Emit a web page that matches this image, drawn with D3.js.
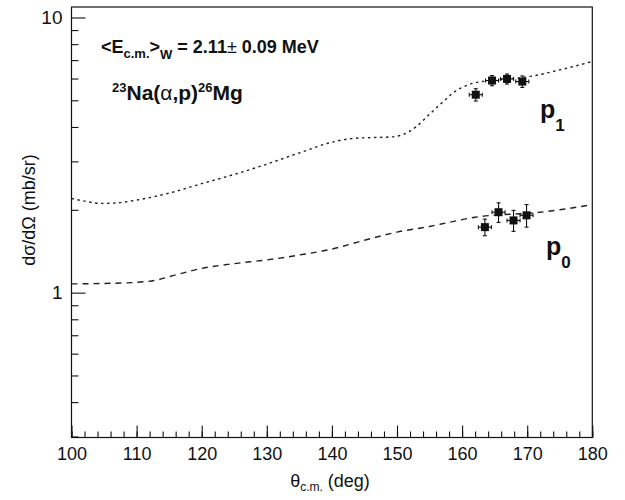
<!DOCTYPE html>
<html><head><meta charset="utf-8">
<script src="https://cdn.jsdelivr.net/npm/d3@7"></script>
<style>body{margin:0;background:#fff;} text{font-family:"Liberation Sans",Arial,Helvetica,sans-serif;fill:#111;}</style>
</head><body><svg id="chart" width="625" height="500"></svg>
<script>
// ---- data ----
const p1CurveAngles = [100,102,104.6,107,110,115,120,125,130,135,140,143,146,149,151,153,155,157,159,161,163,166,170,175,180];
const p1CurveValues = [2.20,2.15,2.11,2.12,2.17,2.30,2.49,2.69,2.93,3.22,3.52,3.63,3.66,3.68,3.76,4.02,4.45,4.92,5.40,5.70,5.85,5.95,6.08,6.45,6.92];
const p0CurveAngles = [100,105,110,113,116,120,125,130,135,140,145,150,155,158,162,166,170,175,180];
const p0CurveValues = [1.076,1.08,1.09,1.11,1.16,1.225,1.275,1.315,1.37,1.44,1.55,1.66,1.74,1.80,1.88,1.92,1.94,2.00,2.09];
const p1Angles = [162.1,164.6,166.9,169.25];
const p1Values = [5.24,5.90,5.98,5.85];
const p1Errors = [0.27,0.25,0.25,0.28];
const p1AngleErrors = [1.0,1.0,1.0,1.0];
const p0Angles = [163.5,165.6,167.9,169.9];
const p0Values = [1.73,1.96,1.83,1.91];
const p0Errors = [0.12,0.16,0.16,0.18];
const p0AngleErrors = [1.0,1.0,1.0,1.0];
const xMajorTicks = [100,110,120,130,140,150,160,170,180];
const xMinorTicks = d3.range(100,181,2);
const yMajorTicks = [1,10];
const yTickLabels = ["1","10"];
const yMinorTicks = [0.3,0.4,0.5,0.6,0.7,0.8,0.9,2,3,4,5,6,7,8,9];

// ---- layout ----
const svg = d3.select("#chart");
const L = 71.5, R = 592.3, T = 6.1, B = 436.5;
const x = d3.scaleLinear().domain([100,180]).range([L,R]);
const y = d3.scaleLog().domain([0.3,11]).range([B,T]);

// frame
svg.append("rect").attr("x",L).attr("y",7).attr("width",R-L).attr("height",B-7+1)
  .attr("fill","none").attr("stroke","#111").attr("stroke-width",1.2);

// x axis
const gx = svg.append("g").attr("transform",`translate(0,${B+1})`);
gx.call(d3.axisBottom(x).tickValues(xMinorTicks).tickSizeInner(-6).tickSizeOuter(0).tickFormat(""));
const gx2 = svg.append("g").attr("transform",`translate(0,${B+1})`);
gx2.call(d3.axisBottom(x).tickValues(xMajorTicks).tickSizeInner(-12).tickSizeOuter(0).tickPadding(10).tickFormat(d3.format("d")));
[gx,gx2].forEach(g=>{g.select(".domain").remove(); g.selectAll("line").attr("stroke","#111").attr("stroke-width",1.1);});
gx2.selectAll("text").attr("font-size",18).attr("font-family","Liberation Sans, Arial, sans-serif").attr("fill","#111");

// y axis
const gy = svg.append("g").attr("transform",`translate(${L},0)`);
gy.call(d3.axisLeft(y).tickValues(yMinorTicks).tickSizeInner(-7).tickSizeOuter(0).tickFormat(""));
const gy2 = svg.append("g").attr("transform",`translate(${L},0)`);
gy2.call(d3.axisLeft(y).tickValues(yMajorTicks).tickSizeInner(-14).tickSizeOuter(0).tickPadding(9).tickFormat((d,i)=>yTickLabels[i]));
[gy,gy2].forEach(g=>{g.select(".domain").remove(); g.selectAll("line").attr("stroke","#111").attr("stroke-width",1.1);});
gy2.selectAll("text").attr("font-size",19).attr("font-family","Liberation Sans, Arial, sans-serif").attr("fill","#111");

// curves
const line = d3.line().x(d=>x(d[0])).y(d=>y(d[1])).curve(d3.curveMonotoneX);
svg.append("path").datum(p1CurveAngles.map((a,i)=>[a,p1CurveValues[i]]))
  .attr("d",line).attr("fill","none").attr("stroke","#222").attr("stroke-width",1.4).attr("stroke-dasharray","2.5,3.5");
svg.append("path").datum(p0CurveAngles.map((a,i)=>[a,p0CurveValues[i]]))
  .attr("d",line).attr("fill","none").attr("stroke","#222").attr("stroke-width",1.4).attr("stroke-dasharray","6,5");

// data points
function drawPoints(ang, val, err, aerr){
  const g = svg.append("g");
  ang.forEach((a,i)=>{
    const cx = x(a), cy = y(val[i]);
    const y1 = y(val[i]-err[i]), y2 = y(val[i]+err[i]);
    const x1 = x(a-aerr[i]), x2 = x(a+aerr[i]);
    const s = "#111";
    g.append("line").attr("x1",cx).attr("x2",cx).attr("y1",y1).attr("y2",y2).attr("stroke",s).attr("stroke-width",1.1);
    g.append("line").attr("x1",cx-2).attr("x2",cx+2).attr("y1",y1).attr("y2",y1).attr("stroke",s).attr("stroke-width",1.1);
    g.append("line").attr("x1",cx-2).attr("x2",cx+2).attr("y1",y2).attr("y2",y2).attr("stroke",s).attr("stroke-width",1.1);
    g.append("line").attr("x1",x1).attr("x2",x2).attr("y1",cy).attr("y2",cy).attr("stroke",s).attr("stroke-width",1.1);
    g.append("line").attr("x1",x1).attr("x2",x1).attr("y1",cy-2).attr("y2",cy+2).attr("stroke",s).attr("stroke-width",1.1);
    g.append("line").attr("x1",x2).attr("x2",x2).attr("y1",cy-2).attr("y2",cy+2).attr("stroke",s).attr("stroke-width",1.1);
    g.append("rect").attr("x",cx-4).attr("y",cy-4).attr("width",8).attr("height",8).attr("fill","#111");
  });
}
drawPoints(p1Angles,p1Values,p1Errors,p1AngleErrors);
drawPoints(p0Angles,p0Values,p0Errors,p0AngleErrors);

// annotations
const t1 = svg.append("text").attr("x",101).attr("y",53).attr("font-size",18).attr("font-weight","bold");
t1.append("tspan").text("<E");
t1.append("tspan").attr("font-size",13).attr("dy",5).text("c.m.");
t1.append("tspan").attr("dy",-5).text(">");
t1.append("tspan").attr("font-size",13).attr("dy",6).text("W");
t1.append("tspan").attr("dy",-6).text(" = 2.11");
t1.append("tspan").attr("font-weight","normal").text("\u00b1 ");
t1.append("tspan").text("0.09 MeV");

const t2 = svg.append("text").attr("x",112).attr("y",100).attr("font-size",21).attr("font-weight","bold");
t2.append("tspan").attr("font-size",13).attr("dy",-8).text("23");
t2.append("tspan").attr("dy",8).text("Na(");
t2.append("tspan").attr("font-weight","normal").text("\u03b1");
t2.append("tspan").text(",p)");
t2.append("tspan").attr("font-size",13).attr("dy",-8).text("26");
t2.append("tspan").attr("dy",8).text("Mg");

const lp1 = svg.append("text").attr("x",540).attr("y",118).attr("font-size",25).attr("font-weight","bold");
lp1.append("tspan").text("p");
lp1.append("tspan").attr("font-size",17).attr("dy",13).text("1");
const lp0 = svg.append("text").attr("x",546).attr("y",255).attr("font-size",25).attr("font-weight","bold");
lp0.append("tspan").text("p");
lp0.append("tspan").attr("font-size",17).attr("dy",13).text("0");

// axis titles
const xt = svg.append("text").attr("x",330).attr("y",487).attr("text-anchor","middle").attr("font-size",18);
xt.append("tspan").text("\u03b8");
xt.append("tspan").attr("font-size",12).attr("dy",4).text("c.m.");
xt.append("tspan").attr("dy",-4).text(" (deg)");

svg.append("text").attr("transform","translate(35,210) rotate(-90)").attr("text-anchor","middle")
  .attr("font-size",18).text("d\u03c3/d\u03a9 (mb/sr)");
</script></body></html>
